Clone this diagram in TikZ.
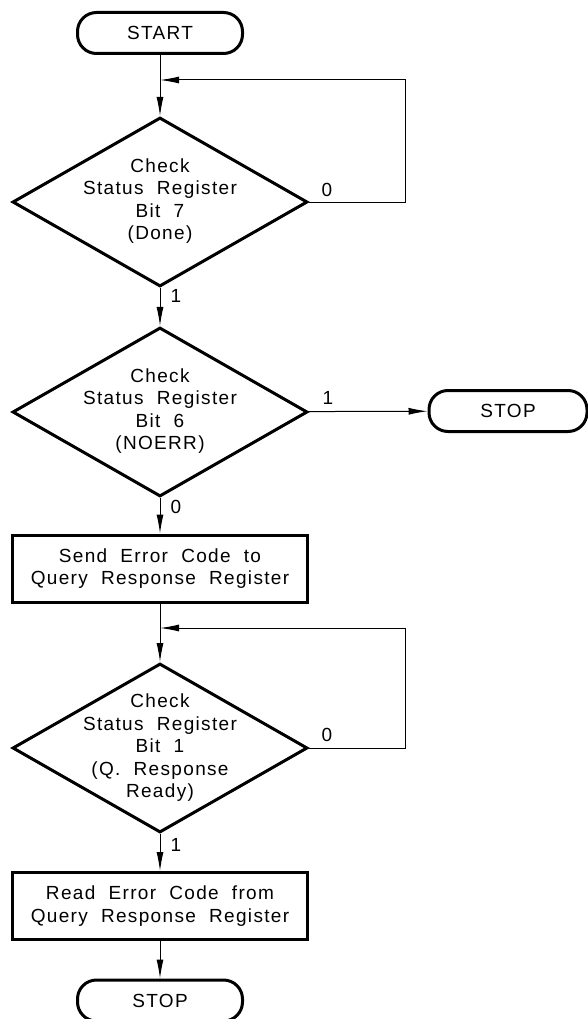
\documentclass[tikz,border=0pt]{standalone}
\usepackage{fontspec}
\setmainfont{Liberation Sans}[LetterSpace=7, WordSpace=2]
\usetikzlibrary{arrows.meta,shapes.geometric}
\begin{document}
\begin{tikzpicture}[x=1pt,y=-1pt,
  every node/.style={font=\fontsize{19}{22.5}\selectfont},
  term/.style={draw, line width=3pt, rectangle, rounded corners=19pt, minimum width=165pt, minimum height=41pt, inner sep=0pt},
  dec/.style={draw, line width=3pt, diamond, aspect=1.75, minimum width=295pt, minimum height=169pt, inner sep=0pt},
  proc/.style={draw, line width=3pt, rectangle, minimum width=295pt, minimum height=67pt, inner sep=0pt, align=center},
  conn/.style={line width=1pt, -{Latex[length=19pt,width=7pt]}},
  lbl/.style={inner sep=0pt},
  txt/.style={align=center, inner sep=0pt}
]
\useasboundingbox (0,0) rectangle (587,1019);

\node[term] (start) at (160,33) {START};
\node[dec] (d1) at (160,202) {};
\node[txt] (t1) at (160,201) {Check\\Status Register\\Bit 7\\(Done)};
\node[dec] (d2) at (160,412) {};
\node[txt] (t2) at (160,411) {Check\\Status Register\\Bit 6\\(NOERR)};
\node[term, minimum width=158pt] (stop1) at (508,411) {STOP};
\node[proc] (p1) at (160,568.5) {Send Error Code to\\Query Response Register};
\node[dec] (d3) at (160,748) {};
\node[txt] (t3) at (160,748) {Check\\Status Register\\Bit 1\\(Q. Response\\Ready)};
\node[proc] (p2) at (160,906) {Read Error Code from\\Query Response Register};
\node[term] (stop2) at (160,1000.5) {STOP};

\coordinate (j1) at (160,80);
\coordinate (j2) at (160,628);

\draw[conn] (start) -- (d1);
\draw[conn] (d1.east) -- ++(96.5,0) |- (j1);
\draw[conn] (d1) -- (d2);
\draw[conn] (d2) -- (stop1);
\draw[conn] (d2) -- (p1);
\draw[conn] (p1) -- (d3);
\draw[conn] (d3.east) -- ++(96.5,0) |- (j2);
\draw[conn] (d3) -- (p2);
\draw[conn] (p2) -- (stop2);

\node[lbl] (l1) at (327,190) {0};
\node[lbl] (l2) at (176,296) {1};
\node[lbl] (l3) at (328,398) {1};
\node[lbl] (l4) at (176,507) {0};
\node[lbl] (l5) at (327,735) {0};
\node[lbl] (l6) at (176,845) {1};
\end{tikzpicture}
\end{document}
